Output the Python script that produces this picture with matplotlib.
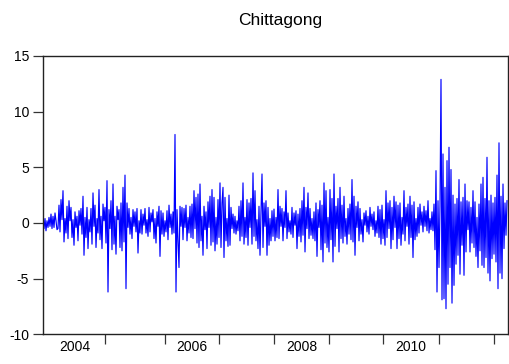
import numpy as np
import matplotlib
matplotlib.use("Agg")
import matplotlib.pyplot as plt
from matplotlib.ticker import FixedLocator, NullFormatter, FixedFormatter

plt.rcParams['font.family'] = ['Liberation Sans', 'DejaVu Sans']

title = "Chittagong"

# Daily returns (%), in trading-day order
returns = [
    0.3, -0.5, 0.4, -0.7, 0.2, -0.4, 0.5, -0.3, 0.8, -0.5,
    0.6, -0.4, 0.9, 0.2, -0.6, -0.5, 1.6, -0.8, 2.1, 0.3,
    2.9, -1.7, 0.4, -0.9, 1.5, -1.4, 2.0, 0.2, 1.4, -1.3,
    0.3, -2.0, 1.0, -0.4, 0.6, -1.6, 1.1, -0.2, 1.3, -1.0,
    2.4, -2.9, 0.5, -1.3, 1.4, -2.3, 0.3, -0.8, 1.3, -1.9,
    2.7, -0.3, 1.6, -2.2, 0.4, -0.9, 3.0, -1.5, 0.6, -2.3,
    1.7, 0.2, 1.4, -1.8, 3.8, -6.2, 1.2, -0.5, 2.0, -2.4,
    3.5, -1.9, 0.6, -2.8, 1.5, 0.3, 1.2, -2.2, 1.8, -2.5,
    3.2, -1.7, 4.3, -5.9, 1.8, -0.4, 1.3, -1.0, 0.5, -1.4,
    1.2, -0.3, 1.0, -0.8, 1.3, -2.7, 0.2, -0.9, 1.2, -1.0,
    0.8, -0.2, 1.3, -0.9, 0.3, -1.2, 1.4, -0.8, 0.9, 0.1,
    1.2, -1.4, 0.4, -1.8, 1.0, -0.3, 1.5, -3.0, 1.1, -1.0,
    0.9, -1.2, 0.2, -0.8, 1.1, -1.5, 1.6, -0.4, 0.8, -1.0,
    1.0, -0.9, 7.95, -6.2, 1.2, -1.6, -4.0, 1.5, -0.3, 1.4,
    -1.5, 1.3, -0.4, 1.6, -1.6, 0.5, -0.9, 1.5, -1.3, 1.7,
    -1.4, 2.9, -0.5, 2.3, -1.8, 2.6, -2.2, 3.5, -1.6, 0.6,
    -2.9, 1.5, -0.6, 1.0, -2.3, 1.9, -0.4, 2.4, -2.0, 3.0,
    -1.7, 2.3, -2.5, 0.5, -1.9, 2.1, -1.3, 3.6, -2.2, 1.8,
    3.2, -3.1, 2.3, -1.6, 0.4, -2.1, 2.5, -2.0, 1.4, -0.5,
    0.8, -0.9, 0.6, -1.0, 0.2, -0.7, 1.5, -1.6, 2.0, -1.2,
    3.6, -1.9, 0.5, -1.3, 2.1, -2.0, 1.8, -0.4, 2.2, -1.9,
    4.5, -1.2, 2.9, -1.6, 0.3, -2.3, 1.5, -2.9, 1.0, 4.4,
    -2.2, 1.8, -0.3, 2.0, -2.9, 1.4, -2.0, 0.4, -1.6, 1.1,
    -1.2, 1.25, -1.6, 0.5, -1.3, 3.0, -1.4, 1.5, -0.3, 1.3,
    -1.6, 1.0, -0.4, 2.9, -1.4, 0.9, -0.8, 0.2, -1.0, 1.4,
    -1.3, 0.9, -0.2, 1.1, -2.3, 0.8, -1.2, 1.3, -1.7, 2.0,
    -1.1, 3.2, -2.6, 1.4, -0.5, 2.7, -1.4, 1.3, -1.1, 0.4,
    -1.4, 1.0, -1.6, 1.8, -3.0, 1.2, -0.4, 2.0, -2.4, 1.6,
    -3.5, 3.6, -1.8, 2.9, -2.2, 0.5, -2.6, 3.0, -1.5, 2.2,
    -3.5, 4.4, -2.1, 1.5, -0.5, 2.2, -2.6, 3.2, -1.4, 1.6,
    -1.8, 2.4, -1.2, 0.4, -1.9, 1.3, -1.0, 1.7, -1.5, 3.9,
    -1.7, 2.4, -2.9, 1.5, -0.4, 1.9, -1.6, 1.3, -1.0, 0.3,
    -1.7, 0.9, -0.2, 1.1, -0.8, 0.6, -1.0, 1.4, -0.3, 0.8,
    -0.6, 1.0, -1.2, 0.2, -0.9, 1.5, -1.3, 1.2, -1.9, 1.6,
    -1.4, 0.3, -2.0, 2.9, -1.3, 1.8, -0.5, 2.0, -2.3, 1.4,
    -1.5, 2.4, -0.4, 1.9, -2.3, 1.6, -1.4, 1.8, -2.0, 0.5,
    -1.0, 2.9, -1.6, 1.4, -0.3, 1.7, -1.9, 2.4, -1.3, 1.6,
    -3.1, 1.9, -1.5, 0.4, -1.2, 1.4, -0.9, 1.7, -0.2, 1.0,
    -0.8, 1.5, -0.3, 1.1, -0.7, 2.0, -0.9, 0.4, -0.6, 1.0,
    -0.7, 1.7, -2.4, 4.7, -6.2, 2.0, -4.0, 1.5, 12.9, -6.9,
    6.2, -6.8, 3.2, -7.7, 5.6, -5.5, 6.8, -4.0, 4.8, -7.2,
    2.5, -5.6, 1.7, -3.7, 2.2, -2.9, 3.9, -4.6, 1.9, -2.0,
    2.3, -4.7, 3.5, -2.6, 2.0, -0.6, 1.9, -2.6, 1.4, -1.8,
    2.9, -2.2, 1.9, -3.0, 0.5, -4.0, 1.7, -2.5, 3.5, -3.8,
    4.1, -4.0, 2.2, -3.1, 5.9, -4.5, 2.0, -5.2, 2.5, -3.2,
    1.8, -2.8, 2.3, -3.5, 4.3, -5.9, 7.2, -4.5, 2.4, -5.0,
    3.5, -2.3, 1.8, -1.1, 2.0,
]

# Observation index where each calendar year begins (2005 ... 2012)
year_start_obs = [62, 122, 176, 231, 286, 340, 396, 451]
first_obs_2004 = 2
labelled_years = ["2004", "2006", "2008", "2010"]

y_ticks = [-10, -5, 0, 5, 10, 15]

fig = plt.figure(figsize=(5.09, 3.64), dpi=100)
ax = fig.add_axes([43 / 509, 29.7 / 364, 465 / 509, 278.3 / 364])

x = np.arange(len(returns))
ax.plot(x, returns, color=(0, 0, 1), linewidth=0.85)

ax.set_xlim(0, len(returns))
ax.set_ylim(y_ticks[0], y_ticks[-1])
ax.set_yticks(y_ticks)
ax.set_yticklabels([str(t) for t in y_ticks])

# Year boundaries as major ticks, year names centred on every second year
bounds = [first_obs_2004] + year_start_obs
mids = [(bounds[i] + bounds[i + 1]) / 2 for i in range(0, len(bounds) - 1, 2)]
ax.xaxis.set_major_locator(FixedLocator(year_start_obs))
ax.xaxis.set_major_formatter(NullFormatter())
ax.xaxis.set_minor_locator(FixedLocator(mids))
ax.xaxis.set_minor_formatter(FixedFormatter(labelled_years))

ax.tick_params(axis='x', which='major', direction='out', length=7, width=0.9, color='#333333')
ax.tick_params(axis='x', which='minor', length=0, pad=4, labelsize=10)
ax.tick_params(axis='y', direction='out', length=7, width=0.9, pad=3, labelsize=10, color='#333333')

for s in ax.spines.values():
    s.set_linewidth(1.0)
    s.set_color('#222222')

fig.text(280 / 509, 1 - 21 / 364, title, ha='center', va='center', fontsize=12.5)

fig.savefig("out.png", dpi=100)
